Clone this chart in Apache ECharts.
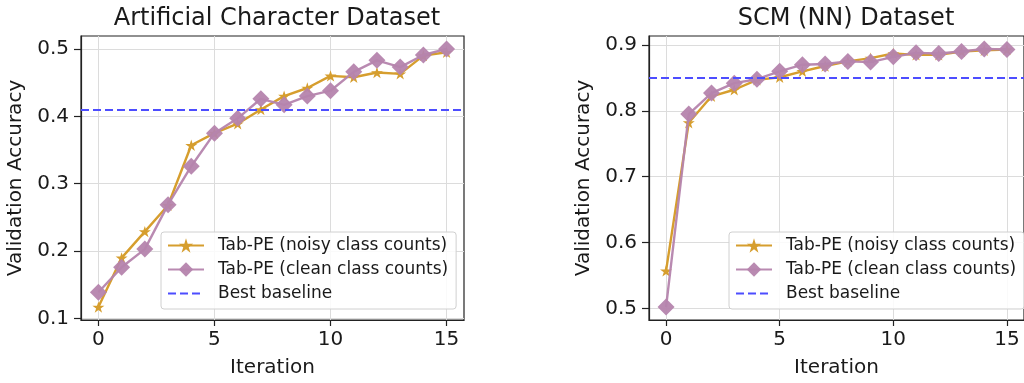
<!DOCTYPE html>
<html>
<head>
<meta charset="utf-8">
<script src="https://cdn.jsdelivr.net/npm/echarts@6/dist/echarts.min.js"></script>
<style>
  html, body { margin: 0; padding: 0; background: #ffffff; }
  #chart { width: 1024px; height: 383px; }
</style>
</head>
<body>
<div id="chart"></div>
<script>
// Validation accuracy per iteration for two datasets
const iterations = [0, 1, 2, 3, 4, 5, 6, 7, 8, 9, 10, 11, 12, 13, 14, 15];

const charNoisy = [0.117, 0.190, 0.229, 0.268, 0.357, 0.375, 0.389, 0.410, 0.430, 0.442, 0.460, 0.458, 0.465, 0.463, 0.490, 0.495];
const charClean = [0.139, 0.176, 0.203, 0.269, 0.326, 0.375, 0.397, 0.426, 0.417, 0.430, 0.438, 0.466, 0.483, 0.473, 0.491, 0.500];
const charBaseline = 0.415;

const scmNoisy = [0.557, 0.782, 0.822, 0.832, 0.847, 0.851, 0.860, 0.868, 0.875, 0.880, 0.887, 0.885, 0.885, 0.890, 0.892, 0.893];
const scmClean = [0.502, 0.795, 0.827, 0.842, 0.848, 0.860, 0.870, 0.871, 0.875, 0.874, 0.882, 0.888, 0.887, 0.890, 0.894, 0.893];
const scmBaseline = 0.8525;

const xTicks = [0, 5, 10, 15];
const charYTicks = [0.1, 0.2, 0.3, 0.4, 0.5];
const scmYTicks = [0.5, 0.6, 0.7, 0.8, 0.9];

const titles = ['Artificial Character Dataset', 'SCM (NN) Dataset'];
const names = ['Tab-PE (noisy class counts)', 'Tab-PE (clean class counts)', 'Best baseline'];

const FONT = 'DejaVu Sans';
const INK = '#1a1a1a';
const GOLD = '#d69e2e';
const PURPLE = '#b584ad';
const BLUE = '#4d4dff';
const STAR = 'path://M0,-1L0.2245,-0.309L0.951,-0.309L0.363,0.118L0.588,0.809L0,0.382L-0.588,0.809L-0.363,0.118L-0.951,-0.309L-0.2245,-0.309Z';

// matplotlib-style 5% autoscale margins
function padded(arrs) {
  const all = [].concat(...arrs);
  const lo = Math.min(...all), hi = Math.max(...all);
  const p = 0.05 * (hi - lo);
  return [lo - p, hi + p];
}
const xPad = 0.05 * (iterations[iterations.length - 1] - iterations[0]);
const xRange = [iterations[0] - xPad, iterations[iterations.length - 1] + xPad];
const charRange = padded([charNoisy, charClean]);
const scmRange = padded([scmNoisy, scmClean]);

const zip = (ys) => iterations.map((x, i) => [x, ys[i]]);

const grids = [
  { left: 81, top: 36, width: 383, height: 286 },
  { left: 649, top: 36, width: 383, height: 286 }
];

function xAxis(gi) {
  return {
    type: 'value', gridIndex: gi, min: xRange[0], max: xRange[1],
    name: 'Iteration', nameLocation: 'middle', nameGap: 38,
    nameTextStyle: { fontFamily: FONT, fontSize: 20, color: INK },
    axisLine: { show: true, onZero: false, lineStyle: { color: '#222', width: 1.2 } },
    axisTick: { show: true, length: 6, customValues: xTicks, lineStyle: { color: '#222', width: 1.2 } },
    axisLabel: { customValues: xTicks, fontFamily: FONT, fontSize: 20, color: INK, margin: 10 },
    splitLine: { show: true, lineStyle: { color: '#dcdcdc', width: 1 } }
  };
}
function yAxis(gi, range, ticks) {
  return {
    type: 'value', gridIndex: gi, min: range[0], max: range[1],
    name: 'Validation Accuracy', nameLocation: 'middle', nameGap: 55,
    nameTextStyle: { fontFamily: FONT, fontSize: 20, color: INK },
    axisLine: { show: true, onZero: false, lineStyle: { color: '#222', width: 1.2 } },
    axisTick: { show: true, length: 7, customValues: ticks, lineStyle: { color: '#222', width: 1.2 } },
    axisLabel: { customValues: ticks, fontFamily: FONT, fontSize: 20, color: INK, margin: 12,
                 formatter: (v) => v.toFixed(1) },
    splitLine: { show: true, lineStyle: { color: '#dcdcdc', width: 1 } }
  };
}

function seriesFor(gi, noisy, clean, baseline) {
  return [
    {
      name: names[0], type: 'line', xAxisIndex: gi, yAxisIndex: gi, data: zip(noisy),
      symbol: STAR, symbolSize: 12, symbolKeepAspect: true,
      lineStyle: { color: GOLD, width: 2.4 }, itemStyle: { color: GOLD }, color: GOLD,
      animation: false, z: 3
    },
    {
      name: names[1], type: 'line', xAxisIndex: gi, yAxisIndex: gi, data: zip(clean),
      symbol: 'diamond', symbolSize: 17,
      lineStyle: { color: PURPLE, width: 2.4, opacity: 0.95 }, itemStyle: { color: PURPLE, opacity: 0.95 }, color: PURPLE,
      animation: false, z: 4
    },
    {
      name: names[2], type: 'line', xAxisIndex: gi, yAxisIndex: gi, data: [],
      symbol: 'none', color: BLUE,
      lineStyle: { color: BLUE, width: 2.2, type: [8, 4] },
      markLine: {
        silent: true, symbol: 'none', label: { show: false }, animation: false,
        lineStyle: { color: BLUE, width: 2.2, type: [8, 4] },
        data: [{ yAxis: baseline }]
      },
      animation: false, z: 5
    }
  ];
}

function legendFor(left) {
  return {
    orient: 'vertical', left: left, top: 232,
    data: [
      { name: names[0] },
      { name: names[1] },
      { name: names[2], itemStyle: { opacity: 0 } }
    ],
    itemWidth: 36, itemHeight: 18, itemGap: 7,
    padding: [5, 8, 7, 6],
    backgroundColor: 'rgba(255,255,255,0.85)', borderColor: '#d0d0d0', borderWidth: 1, borderRadius: 3,
    textStyle: { fontFamily: FONT, fontSize: 17, color: INK, padding: [0, 0, 0, 9] },
    selectedMode: false
  };
}

const chart = echarts.init(document.getElementById('chart'), null, { renderer: 'canvas' });
chart.setOption({
  backgroundColor: '#ffffff',
  animation: false,
  title: [
    { text: titles[0], left: 272, top: 2, textAlign: 'center',
      textStyle: { fontFamily: FONT, fontSize: 24, fontWeight: 'normal', color: INK } },
    { text: titles[1], left: 841, top: 2, textAlign: 'center',
      textStyle: { fontFamily: FONT, fontSize: 24, fontWeight: 'normal', color: INK } }
  ],
  grid: grids.map(g => Object.assign({ show: true, borderColor: '#222', borderWidth: 1.2, backgroundColor: 'transparent' }, g)),
  legend: [legendFor(161), legendFor(729)],
  xAxis: [xAxis(0), xAxis(1)],
  yAxis: [yAxis(0, charRange, charYTicks), yAxis(1, scmRange, scmYTicks)],
  series: [].concat(
    seriesFor(0, charNoisy, charClean, charBaseline),
    seriesFor(1, scmNoisy, scmClean, scmBaseline)
  )
});
</script>
</body>
</html>
